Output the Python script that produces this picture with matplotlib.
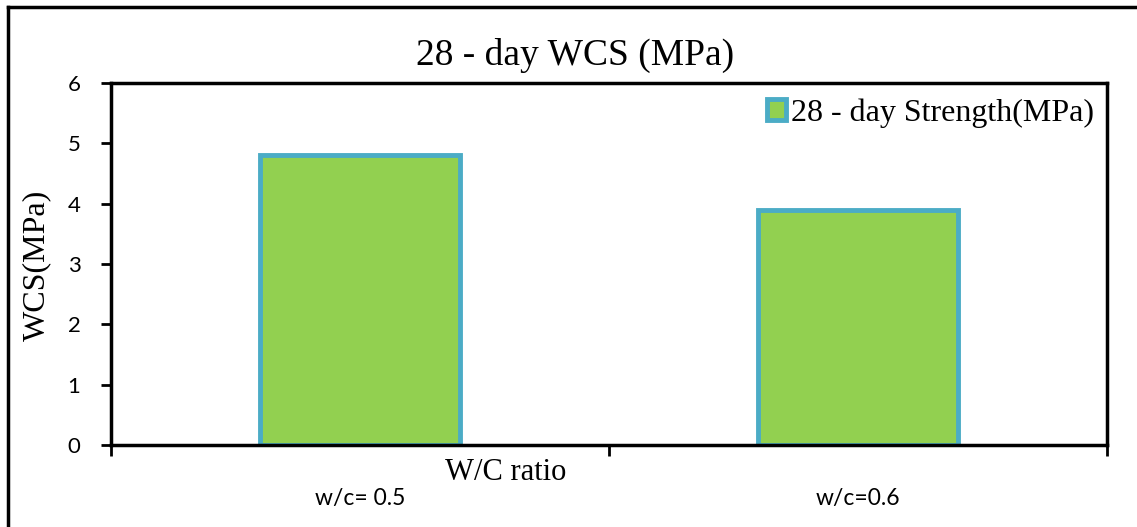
import matplotlib.pyplot as plt
from matplotlib.lines import Line2D
import numpy as np

categories = ["w/c= 0.5", "w/c=0.6"]
strength = [4.8, 3.9]
series_name = "28 - day Strength(MPa)"

W, H = 1137, 527
fig = plt.figure(figsize=(W / 100, H / 100), dpi=100)
ax = fig.add_axes([111 / W, 1 - 445 / H, 996 / W, 362 / H])

serif = ["Liberation Serif", "DejaVu Serif"]
sans = ["Lato", "DejaVu Sans"]

x = np.arange(len(categories))
ax.bar(x, strength, width=0.4, color="#92D050", edgecolor="#4BACC6",
       linewidth=3.5, label=series_name, zorder=2)

ax.set_xlim(-0.5, len(categories) - 0.5)
ax.set_ylim(0, 6)
ax.set_yticks(range(7))
ax.tick_params(axis="y", direction="out", length=7, width=2, pad=15,
               labelsize=16)
for lab in ax.get_yticklabels():
    lab.set_fontfamily(sans)

# category boundaries get the tick marks, names go on minor ticks
ax.set_xticks(np.arange(len(categories) + 1) - 0.5)
ax.set_xticklabels([])
ax.tick_params(axis="x", which="major", direction="out", length=8, width=2)
ax.set_xticks(x, minor=True)
ax.set_xticklabels(categories, minor=True)
ax.tick_params(axis="x", which="minor", length=0, pad=31, labelsize=16.5)
for lab in ax.get_xticklabels(minor=True):
    lab.set_fontfamily(sans)

for side in ["left", "bottom", "top", "right"]:
    ax.spines[side].set_linewidth(2.5)

ax.set_ylabel("WCS(MPa)", fontsize=23, fontfamily=serif, va="center", ha="center")
ax.yaxis.set_label_coords((37 - 111) / 996, (445 - 265) / 362)
ax.set_xlabel("W/C ratio", fontsize=22, fontfamily=serif, va="center", ha="center")
ax.xaxis.set_label_coords((506 - 111) / 996, (445 - 473) / 362)

fig.text(575 / W, 1 - 55 / H, "28 - day WCS (MPa)", fontsize=27,
         fontfamily=serif, ha="center", va="center")

ax.legend(loc="center left", bbox_to_anchor=(767 / W, 1 - 113 / H),
          bbox_transform=fig.transFigure, frameon=False, borderpad=0,
          borderaxespad=0, handlelength=0.6, handleheight=0.6,
          handletextpad=0.15, prop={"family": serif, "size": 23})

# outer chart border
fig.add_artist(Line2D([7.5 / W, 7.5 / W], [0, 1 - 7 / H], color="black",
                      linewidth=2.5, transform=fig.transFigure))
fig.add_artist(Line2D([7.5 / W, 1], [1 - 7 / H, 1 - 7 / H], color="black",
                      linewidth=2.5, transform=fig.transFigure))

fig.savefig("out.png", dpi=100)
